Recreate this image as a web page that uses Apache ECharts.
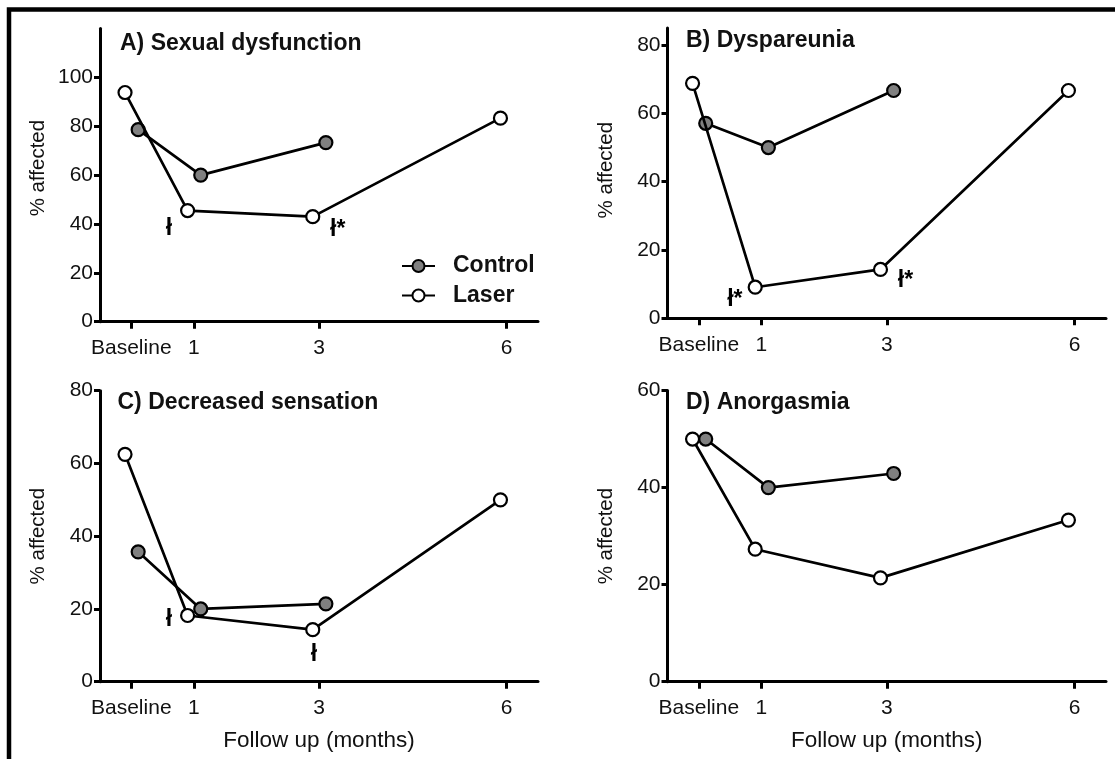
<!DOCTYPE html>
<html>
<head>
<meta charset="utf-8">
<script src="https://cdn.jsdelivr.net/npm/echarts@6/dist/echarts.min.js"></script>
<style>
html,body{margin:0;padding:0;background:#fff;}
#chart{width:1115px;height:759px;}
</style>
</head>
<body>
<div id="chart"></div>
<script>
// ---- data ----
const tickValues = [0, 1, 3, 6];
const tickLabels = ['Baseline', '1', '3', '6'];
const controlX = [0.11, 1.11, 3.11];
const laserX = [-0.1, 0.9, 2.9, 5.9];

const titles = ['A) Sexual dysfunction', 'B) Dyspareunia', 'C) Decreased sensation', 'D) Anorgasmia'];

const controlA = [78.6, 60.0, 73.3];
const laserA = [93.8, 45.5, 43.0, 83.3];
const controlB = [57.1, 50.0, 66.7];
const laserB = [68.8, 9.1, 14.3, 66.7];
const controlC = [35.7, 20.0, 21.4];
const laserC = [62.5, 18.2, 14.3, 50.0];
const controlD = [50.0, 40.0, 42.9];
const laserD = [50.0, 27.3, 21.4, 33.3];

const yMax = [120, 85, 80, 60];
const yTicks = [[0, 20, 40, 60, 80, 100], [0, 20, 40, 60, 80], [0, 20, 40, 60, 80], [0, 20, 40, 60]];

const marksA = [[0.6, 38.2, 'ł'], [3.3, 37.5, 'ł*']];
const marksB = [[0.575, 5.4, 'ł*'], [3.3, 10.9, 'ł*']];
const marksC = [[0.6, 17.0, 'ł'], [2.92, 7.3, 'ł']];
const marksD = [];

const controls = [controlA, controlB, controlC, controlD];
const lasers = [laserA, laserB, laserC, laserD];
const marks = [marksA, marksB, marksC, marksD];

// ---- layout ----
const FONT = 'Liberation Sans, Arial, Helvetica, sans-serif';
const grids = [
  {left: 100, top: 28.5, width: 438, height: 293.2},
  {left: 667.5, top: 28, width: 438.5, height: 290.3},
  {left: 100, top: 390.7, width: 438, height: 291},
  {left: 667.5, top: 390.5, width: 438.5, height: 291.2}
];
const titlePos = [
  {left: 120, top: 32.5},
  {left: 686, top: 29},
  {left: 117.5, top: 391.5},
  {left: 686, top: 391}
];
const yNamePad = [[0, 0, 0, 14], [0, 0, 0, 6], [0, 0, 0, 0], [0, 0, 0, 0]];

const zip = (xs, ys) => ys.map((v, i) => [xs[i], v]);

const xAxes = grids.map((g, i) => ({
  type: 'value', gridIndex: i, min: -0.5, max: 6.5,
  splitLine: {show: false},
  axisLine: {show: true, onZero: false, lineStyle: {color: '#000', width: 3}},
  axisTick: {show: true, length: 7, lineStyle: {color: '#000', width: 3}, customValues: tickValues},
  axisLabel: {
    show: true, margin: 16, color: '#111', fontSize: 21, fontFamily: FONT,
    customValues: tickValues,
    formatter: v => tickLabels[tickValues.indexOf(v)] || ''
  },
  name: i >= 2 ? 'Follow up (months)' : '',
  nameLocation: 'middle', nameGap: 48,
  nameTextStyle: {color: '#111', fontSize: 22.5, fontFamily: FONT}
}));

const yAxes = grids.map((g, i) => ({
  type: 'value', gridIndex: i, min: 0, max: yMax[i], interval: 20,
  splitLine: {show: false},
  axisLine: {show: true, onZero: false, lineStyle: {color: '#000', width: 3}},
  axisTick: {show: true, length: 6, lineStyle: {color: '#000', width: 3}, customValues: yTicks[i]},
  axisLabel: {show: true, margin: 7, color: '#111', fontSize: 21, fontFamily: FONT, customValues: yTicks[i]},
  name: '% affected', nameLocation: 'middle', nameRotate: 90, nameGap: 51,
  nameTextStyle: {color: '#111', fontSize: 20.5, fontFamily: FONT, padding: yNamePad[i]}
}));

const series = [];
grids.forEach((g, i) => {
  series.push({
    name: 'Control', type: 'line', xAxisIndex: i, yAxisIndex: i,
    data: zip(controlX, controls[i]),
    symbol: 'circle', symbolSize: 13,
    lineStyle: {color: '#000', width: 2.7},
    itemStyle: {color: '#808080', borderColor: '#000', borderWidth: 2.2},
    z: 2, animation: false
  });
  series.push({
    name: 'Laser', type: 'line', xAxisIndex: i, yAxisIndex: i,
    data: zip(laserX, lasers[i]),
    symbol: 'circle', symbolSize: 13,
    lineStyle: {color: '#000', width: 2.7},
    itemStyle: {color: '#fff', borderColor: '#000', borderWidth: 2.2},
    z: 3, animation: false
  });
  if (marks[i].length) {
    series.push({
      name: 'sig' + i, type: 'scatter', xAxisIndex: i, yAxisIndex: i,
      data: marks[i], symbolSize: 1, silent: true, z: 5,
      itemStyle: {opacity: 0},
      label: {
        show: true, position: 'inside', color: '#000', opacity: 1, fontSize: 23, fontWeight: 'bold', fontFamily: FONT,
        formatter: p => p.value[2]
      },
      animation: false
    });
  }
});

const option = {
  backgroundColor: '#fff',
  animation: false,
  title: titles.map((t, i) => ({
    text: t, left: titlePos[i].left, top: titlePos[i].top, padding: 0,
    textStyle: {color: '#111', fontSize: 23, fontWeight: 'bold', fontFamily: FONT}
  })),
  legend: {
    data: ['Control', 'Laser'], orient: 'vertical', left: 401, top: 254.5,
    itemWidth: 33, itemHeight: 15, itemGap: 6.5, padding: 0,
    textStyle: {color: '#111', fontSize: 23, fontWeight: 'bold', fontFamily: FONT, padding: [0, 0, 0, 13]}
  },
  grid: grids,
  xAxis: xAxes,
  yAxis: yAxes,
  series: series,
  graphic: [{
    type: 'rect', silent: true, z: 100,
    shape: {x: 9, y: 9.5, width: 1300, height: 1000},
    style: {fill: 'none', stroke: '#000', lineWidth: 4.5}
  }]
};

const chart = echarts.init(document.getElementById('chart'), null, {renderer: 'canvas'});
chart.setOption(option);
</script>
</body>
</html>
